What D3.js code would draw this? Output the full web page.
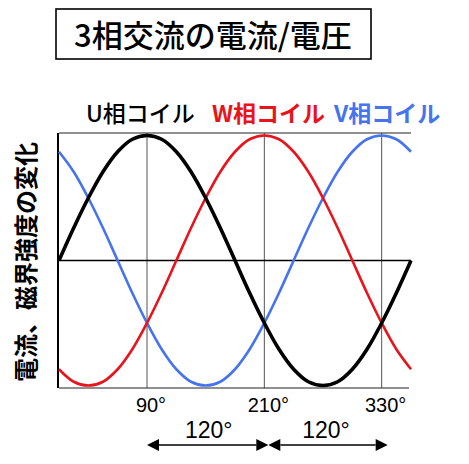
<!DOCTYPE html>
<html>
<head>
<meta charset="utf-8">
<script src="https://cdn.jsdelivr.net/npm/d3@7"></script>
<style>
  html, body { margin: 0; padding: 0; background: #fff; }
  svg { display: block; }
</style>
</head>
<body>
<script>
// values, every 15 degrees
const angles = [0, 15, 30, 45, 60, 75, 90, 105, 120, 135, 150, 165, 180, 195, 210, 225, 240, 255, 270, 285, 300, 315, 330, 345, 360];
const uValues = [0, .26, .5, .71, .87, .97, 1, .97, .87, .71, .5, .26, 0, -.26, -.5, -.71, -.87, -.97, -1, -.97, -.87, -.71, -.5, -.26, 0];
const wValues = [-.87, -.97, -1, -.97, -.87, -.71, -.5, -.26, 0, .26, .5, .71, .87, .97, 1, .97, .87, .71, .5, .26, 0, -.26, -.5, -.71, -.87];
const vValues = [.87, .71, .5, .26, 0, -.26, -.5, -.71, -.87, -.97, -1, -.97, -.87, -.71, -.5, -.26, 0, .26, .5, .71, .87, .97, 1, .97, .87];
const seriesNames = ["U相コイル", "W相コイル", "V相コイル"];
const tickValues = [90, 210, 330];
const tickLabels = ["90°", "210°", "330°"];
const spans = [[90, 210], [210, 330]];
const spanLabel = "120°";
const title = "3相交流の電流/電圧";
const yLabel = "電流、磁界強度の変化";

const W = 469, H = 464;
const colors = {U: "#000000", W: "#e8141c", V: "#4574ee"};
const jp = "'Noto Sans CJK JP', 'Noto Sans', sans-serif";
const num = "'Liberation Sans', Arial, sans-serif";

const svg = d3.select("body").append("svg").attr("width", W).attr("height", H);

const x = d3.scaleLinear().domain([0, 360]).range([59, 411]);
const y = d3.scaleLinear().domain([-1.02, 1.02]).range([388, 133]);

// title box
svg.append("rect").attr("x", 56).attr("y", 9).attr("width", 315).attr("height", 50)
  .attr("fill", "none").attr("stroke", "#000").attr("stroke-width", 1.6);
svg.append("text").attr("x", 213).attr("y", 47).attr("text-anchor", "middle")
  .attr("font-family", jp).attr("font-size", 31).attr("font-weight", 500).text(title);

// legend
const legendX = [86, 212, 334];
const legendW = [500, 700, 700];
[colors.U, colors.W, colors.V].forEach((c, i) => {
  svg.append("text").attr("x", legendX[i]).attr("y", 122)
    .attr("font-family", jp).attr("font-size", 23).attr("font-weight", legendW[i])
    .attr("fill", c).text(seriesNames[i]);
});

// y label
svg.append("text").attr("transform", "translate(35,262) rotate(-90)")
  .attr("text-anchor", "middle").attr("font-family", jp).attr("font-size", 24)
  .attr("font-weight", 700).text(yLabel);

// grid lines
svg.selectAll(".grid").data(tickValues).enter().append("line")
  .attr("class", "grid")
  .attr("x1", d => x(d)).attr("x2", d => x(d))
  .attr("y1", y(1.02)).attr("y2", y(-1.02))
  .attr("stroke", "#555").attr("stroke-width", 1);

// frame top / bottom
svg.append("line").attr("x1", x(0)).attr("x2", x(360)).attr("y1", y(1.02)).attr("y2", y(1.02))
  .attr("stroke", "#222").attr("stroke-width", 1.2);
svg.append("line").attr("x1", x(0)).attr("x2", x(358)).attr("y1", y(-1.02)).attr("y2", y(-1.02))
  .attr("stroke", "#222").attr("stroke-width", 1.2);
// zero line
svg.append("line").attr("x1", x(0)).attr("x2", x(360)).attr("y1", y(0)).attr("y2", y(0))
  .attr("stroke", "#000").attr("stroke-width", 1.6);
// left axis
svg.append("line").attr("x1", x(0) - 1).attr("x2", x(0) - 1).attr("y1", y(1.02)).attr("y2", y(-1.02))
  .attr("stroke", "#000").attr("stroke-width", 2);

// curves
const line = d3.line().x((d, i) => x(angles[i])).y(d => y(d)).curve(d3.curveCatmullRom);
[[vValues, colors.V, 2.6], [wValues, colors.W, 2.6], [uValues, colors.U, 3.6]].forEach(s => {
  svg.append("path").attr("d", line(s[0])).attr("fill", "none")
    .attr("stroke", s[1]).attr("stroke-width", s[2]).attr("stroke-linejoin", "round");
});

// tick labels
svg.selectAll(".tick").data(tickValues).enter().append("text")
  .attr("class", "tick")
  .attr("x", d => x(d) + 4).attr("y", 412).attr("text-anchor", "middle")
  .attr("font-family", num).attr("font-size", 20)
  .text((d, i) => tickLabels[i]);

// 120 degree arrows
const ay = 445, ah = 12, aw = 6;
spans.forEach((s, i) => {
  const x1 = x(s[0]) + (i === 0 ? 0 : 4), x2 = x(s[1]) + (i === 0 ? 4 : 6);
  svg.append("line").attr("x1", x1 + ah).attr("x2", x2 - ah).attr("y1", ay).attr("y2", ay)
    .attr("stroke", "#000").attr("stroke-width", 1.5);
  svg.append("path").attr("d", `M${x1},${ay}L${x1 + ah},${ay - aw}L${x1 + ah},${ay + aw}Z`).attr("fill", "#000");
  svg.append("path").attr("d", `M${x2},${ay}L${x2 - ah},${ay - aw}L${x2 - ah},${ay + aw}Z`).attr("fill", "#000");
  svg.append("text").attr("x", (x(s[0]) + x(s[1])) / 2 + 3).attr("y", 438)
    .attr("text-anchor", "middle").attr("font-family", num).attr("font-size", 23)
    .text(spanLabel);
});
</script>
</body>
</html>
